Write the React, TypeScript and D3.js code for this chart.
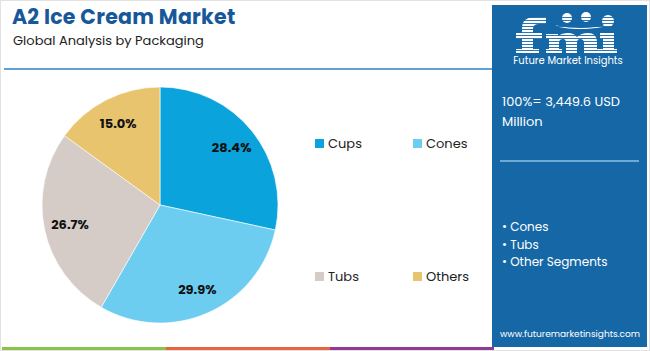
import React from "react";
import * as d3 from "d3";

const categories = ["Cups", "Cones", "Tubs", "Others"];
const shares = [28.4, 29.9, 26.7, 15.0];
const colors = ["#0aa3db", "#6dcdf1", "#d6ccc7", "#e9c46e"];
const panelBullets = ["Cones", "Tubs", "Other Segments"];
const bottomBar = ["#8bc34a", "#e8643c", "#8e3a96"];

const FONT = "Poppins, 'Open Sans', 'Noto Sans', sans-serif";
const PANEL = "#1667a6";

export default function App() {
  const W = 650, H = 351;
  const cx = 160, cy = 205, r = 118;
  const data = categories.map((c, i) => ({ c, v: shares[i], color: colors[i] }));
  const pie = d3.pie<any>().value((d) => d.v).sort(null);
  const arcs = pie(data);
  const arc = d3.arc<any>().innerRadius(0).outerRadius(r);
  const labelArc = d3.arc<any>().innerRadius(r * 0.78).outerRadius(r * 0.78);

  const legendPos = [
    { x: 315, y: 139 },
    { x: 413, y: 139 },
    { x: 315, y: 272 },
    { x: 413, y: 272 },
  ];

  const barX = d3.scaleLinear().domain([0, bottomBar.length]).range([2, 494]);

  // logo shapes (decorative)
  const fPath = "M522,53 L522,28 Q522,17 536,17 L546,17 L546,24 L539,24 Q533,24 533,29 L533,33 L542,33 L542,39 L533,39 L533,49 L539,49 L539,53 Z M516,33 L522,33 L522,39 L516,39 Z M516,49 L522,49 L522,53 L516,53 Z";
  const mPath = "M546,53 L546,49 L549,49 L549,39 L546,39 L546,34 L558,34 L558,36 Q562,33 568,33 Q574,33 577,37 Q581,33 588,33 Q597,33 597,42 L597,49 L600,49 L600,53 L584,53 L584,43 Q584,39 580,39 Q577,39 577,43 L577,53 L566,53 L566,43 Q566,39 563,39 Q559,39 559,43 L559,49 L562,49 L562,53 Z";
  const iPath = "M600,53 L600,49 L603,49 L603,39 L600,39 L600,33 L614,33 L614,49 L617,49 L617,53 Z";

  return (
    <svg width={W} height={H} style={{ position: "absolute", left: 0, top: 0, fontFamily: FONT }}>
      <rect x={0} y={0} width={W} height={H} fill="#ffffff" />
      <rect x={0.5} y={0.5} width={W - 1} height={H - 1} fill="none" stroke="#e2e2e2" />
      <text x={12} y={23.5} fontSize={20.5} fontWeight={700} fill="#17589a" letterSpacing={0.25}>
        A2 Ice Cream Market
      </text>
      <text x={13} y={44.5} fontSize={13} fill="#222">
        Global Analysis by Packaging
      </text>
      <line x1={4} x2={494} y1={69} y2={69} stroke="#2f7fc1" strokeWidth={1.5} />

      <g transform={`translate(${cx},${cy})`}>
        {arcs.map((a, i) => (
          <path key={i} d={arc(a) as string} fill={a.data.color} stroke="#fff" strokeWidth={0.6} />
        ))}
        {arcs.map((a, i) => {
          const [lx, ly] = labelArc.centroid(a);
          return (
            <text key={"l" + i} x={lx} y={ly} textAnchor="middle" dominantBaseline="central"
              fontSize={13} fontWeight={700} fill="#111">
              {a.data.v.toFixed(1)}%
            </text>
          );
        })}
      </g>

      {data.map((d, i) => (
        <g key={"lg" + i}>
          <rect x={legendPos[i].x} y={legendPos[i].y} width={9} height={9} fill={d.color} />
          <text x={legendPos[i].x + 13} y={legendPos[i].y + 8.5} fontSize={13} fill="#222">
            {d.c}
          </text>
        </g>
      ))}

      {bottomBar.map((c, i) => (
        <rect key={"b" + i} x={barX(i)} y={347} width={barX(i + 1) - barX(i)} height={3} fill={c} />
      ))}

      <rect x={492} y={5} width={155} height={342} fill={PANEL} />
      <g fill="#ffffff">
        <path d={fPath} />
        <path d={mPath} />
        <path d={iPath} />
        <circle cx={608} cy={21} r={6} />
        <circle cx={567} cy={18} r={5} />
        <circle cx={586} cy={17} r={5} />
        <path d="M556,26 Q585,32 612,24" fill="none" stroke="#fff" strokeWidth={1.2} />
        {d3.range(17, 54, 3).map((y) => (
          <rect key={"s" + y} x={512} y={y} width={110} height={0.9} fill={PANEL} />
        ))}
        <text x={568} y={64} textAnchor="middle" fontSize={10}>Future Market Insights</text>
        <text x={502} y={106} fontSize={13}>100%= 3,449.6 USD</text>
        <text x={502} y={126} fontSize={13}>Million</text>
      </g>
      <line x1={500} x2={639} y1={161} y2={161} stroke="#8cc0e6" strokeWidth={1.5} />
      {panelBullets.map((b, i) => (
        <text key={"pb" + i} x={502} y={231 + i * 17.5} fontSize={12} fill="#fff">
          • {b}
        </text>
      ))}
      <text x={570} y={337} textAnchor="middle" fontSize={9} fill="#fff">
        www.futuremarketinsights.com
      </text>
    </svg>
  );
}
